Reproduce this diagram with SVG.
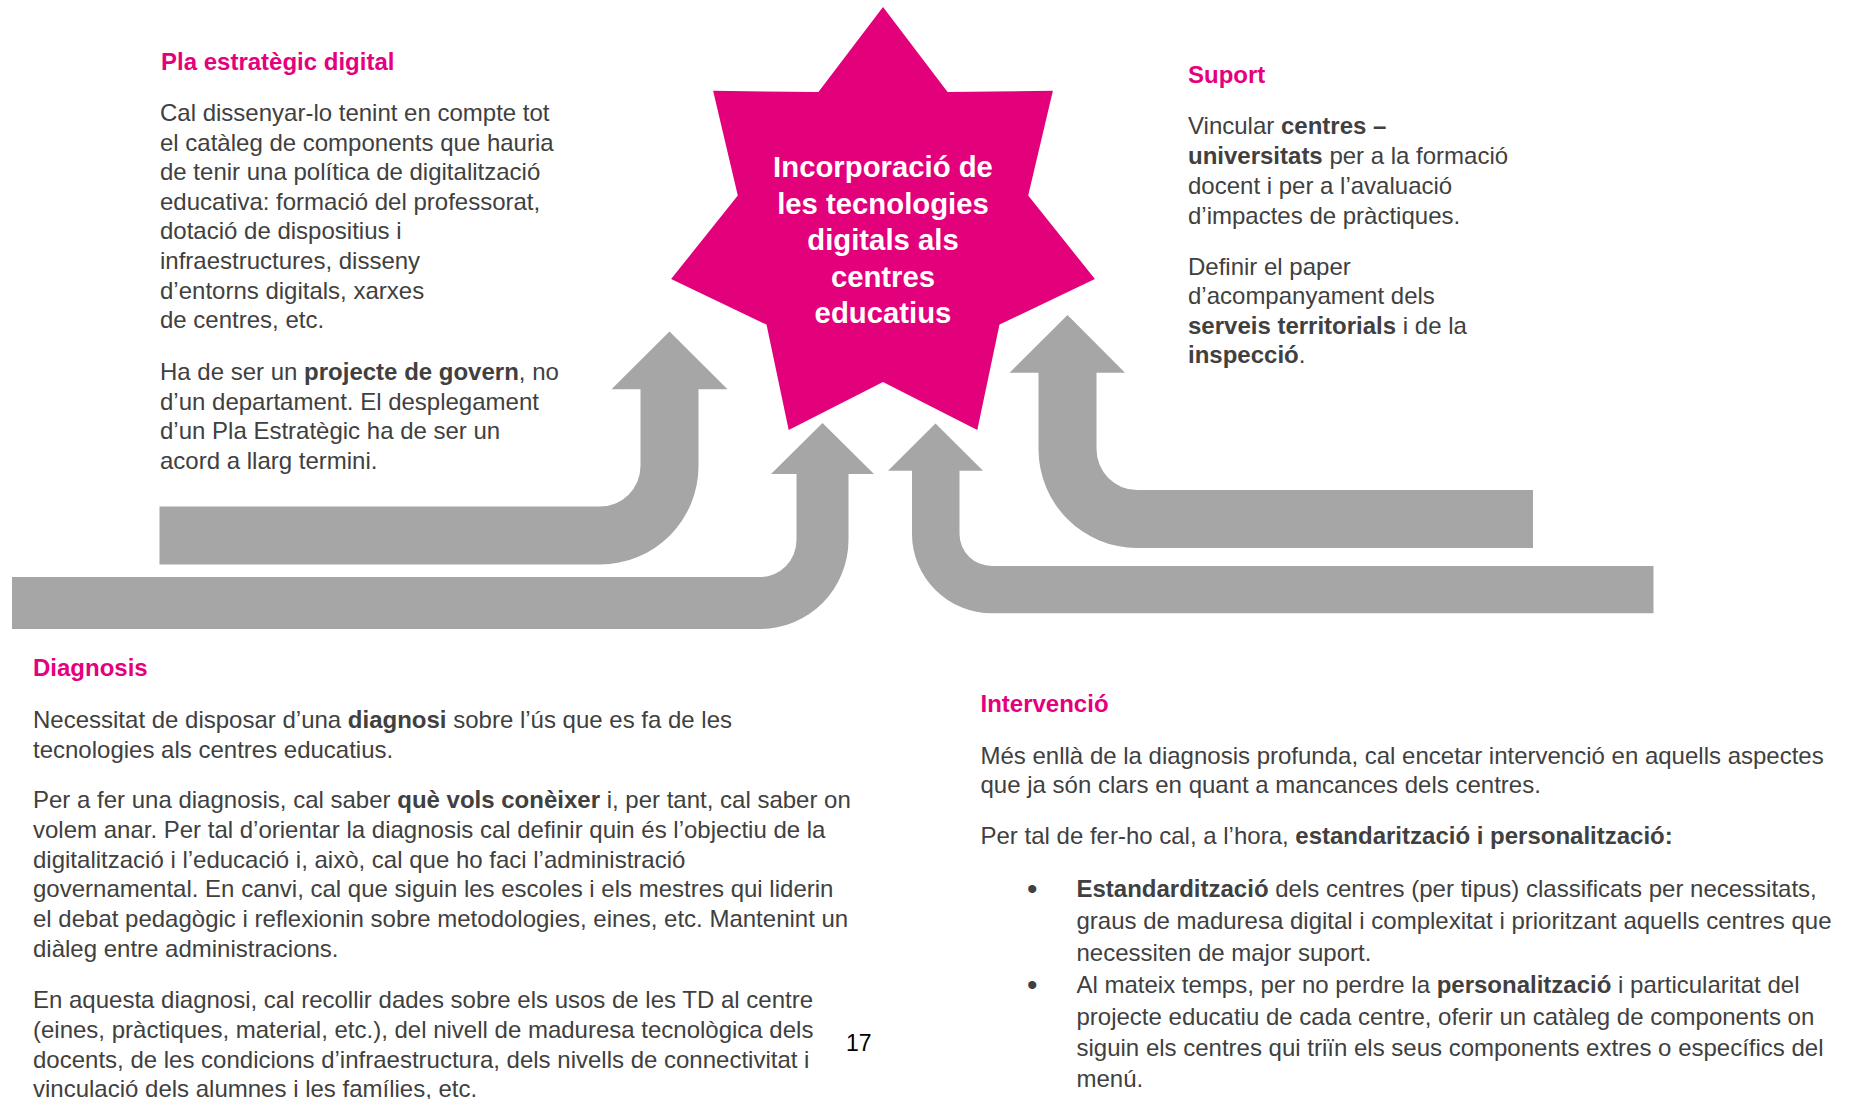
<svg xmlns="http://www.w3.org/2000/svg" width="1850" height="1099" viewBox="0 0 1850 1099">
<style>
  .t { font-family: "Liberation Sans", Arial, sans-serif; font-size: 24px; fill: #404040; }
  .h { font-family: "Liberation Sans", Arial, sans-serif; font-size: 24px; font-weight: bold; fill: #E5007D; }
  .b { font-weight: bold; }
  .st { font-family: "Liberation Sans", Arial, sans-serif; font-size: 29.3px; font-weight: bold; fill: #FFFFFF; text-anchor: middle; }
  .arrow { fill: #A6A6A6; }
  .bul { font-family: "Liberation Sans", Arial, sans-serif; font-size: 30px; fill: #404040; }
  .pg { font-family: "Liberation Sans", Arial, sans-serif; font-size: 23px; fill: #000000; }
</style>
<rect width="1850" height="1099" fill="#FFFFFF"/>

<g id="connectors">
  <path class="arrow" d="M159.5,506.5 H600 A40.5,40.5 0 0 0 640.5,466 V389.3 H611.5 L669.5,331.5 L727.5,389.3 H698.5 V466 A98.5,98.5 0 0 1 600,564.5 H159.5 Z"/>
  <path class="arrow" d="M12,577 H760 A36.5,37 0 0 0 796.5,540 V474 H771 L822.5,423 L874,474 H848.5 V540 A88.5,89 0 0 1 760,629 H12 Z"/>
  <path class="arrow" d="M1653.5,566 H992 A32.5,32 0 0 1 959.5,534 V470.7 H983 L935.5,423.5 L888,470.7 H912 V534 A80,79.3 0 0 0 992,613.3 H1653.5 Z"/>
  <path class="arrow" d="M1533,490 H1137 A40.5,41 0 0 1 1096.5,449 V372.7 H1125 L1067.5,315 L1009.5,372.7 H1038.5 V449 A98.5,99 0 0 0 1137,548 H1533 Z"/>
</g>

<g id="star">
  <polygon fill="#E3007B" points="883,7 947.6,92.1 1052.9,90.8 1028.2,195.6 1094.9,279 999.5,324.6 977.3,430 883,382 788.7,430 766.5,324.6 671.1,279 737.8,195.6 713.1,90.8 818.4,92.1"/>
  <text class="st" x="883" y="177">Incorporació de</text>
  <text class="st" x="883" y="213.5">les tecnologies</text>
  <text class="st" x="883" y="250">digitals als</text>
  <text class="st" x="883" y="286.5">centres</text>
  <text class="st" x="883" y="323">educatius</text>
</g>

<g id="pla">
  <text class="h" x="161" y="69.5">Pla estratègic digital</text>
  <text class="t" x="160" y="121">Cal dissenyar-lo tenint en compte tot</text>
  <text class="t" x="160" y="150.6">el catàleg de components que hauria</text>
  <text class="t" x="160" y="180.2">de tenir una política de digitalització</text>
  <text class="t" x="160" y="209.8">educativa: formació del professorat,</text>
  <text class="t" x="160" y="239.4">dotació de dispositius i</text>
  <text class="t" x="160" y="269">infraestructures, disseny</text>
  <text class="t" x="160" y="298.6">d’entorns digitals, xarxes</text>
  <text class="t" x="160" y="328.2">de centres, etc.</text>
  <text class="t" x="160" y="380">Ha de ser un <tspan class="b">projecte de govern</tspan>, no</text>
  <text class="t" x="160" y="409.6">d’un departament. El desplegament</text>
  <text class="t" x="160" y="439.2">d’un Pla Estratègic ha de ser un</text>
  <text class="t" x="160" y="468.8">acord a llarg termini.</text>
</g>

<g id="suport">
  <text class="h" x="1188" y="82.5">Suport</text>
  <text class="t" x="1188" y="133.5">Vincular <tspan class="b">centres –</tspan></text>
  <text class="t" x="1188" y="163.5"><tspan class="b">universitats</tspan> per a la formació</text>
  <text class="t" x="1188" y="193.5">docent i per a l’avaluació</text>
  <text class="t" x="1188" y="223.5">d’impactes de pràctiques.</text>
  <text class="t" x="1188" y="274.5">Definir el paper</text>
  <text class="t" x="1188" y="304">d’acompanyament dels</text>
  <text class="t" x="1188" y="333.5"><tspan class="b">serveis territorials</tspan> i de la</text>
  <text class="t" x="1188" y="363"><tspan class="b">inspecció</tspan>.</text>
</g>

<g id="diagnosis">
  <text class="h" x="33" y="676">Diagnosis</text>
  <text class="t" x="33" y="728">Necessitat de disposar d’una <tspan class="b">diagnosi</tspan> sobre l’ús que es fa de les</text>
  <text class="t" x="33" y="757.8">tecnologies als centres educatius.</text>
  <text class="t" x="33" y="808">Per a fer una diagnosis, cal saber <tspan class="b">què vols conèixer</tspan> i, per tant, cal saber on</text>
  <text class="t" x="33" y="837.8">volem anar. Per tal d’orientar la diagnosis cal definir quin és l’objectiu de la</text>
  <text class="t" x="33" y="867.6">digitalització i l’educació i, això, cal que ho faci l’administració</text>
  <text class="t" x="33" y="897.4">governamental. En canvi, cal que siguin les escoles i els mestres qui liderin</text>
  <text class="t" x="33" y="927.2">el debat pedagògic i reflexionin sobre metodologies, eines, etc. Mantenint un</text>
  <text class="t" x="33" y="957">diàleg entre administracions.</text>
  <text class="t" x="33" y="1008">En aquesta diagnosi, cal recollir dades sobre els usos de les TD al centre</text>
  <text class="t" x="33" y="1037.8">(eines, pràctiques, material, etc.), del nivell de maduresa tecnològica dels</text>
  <text class="t" x="33" y="1067.6">docents, de les condicions d’infraestructura, dels nivells de connectivitat i</text>
  <text class="t" x="33" y="1097.4">vinculació dels alumnes i les famílies, etc.</text>
</g>

<g id="page-number">
  <text class="pg" x="846" y="1050.5">17</text>
</g>

<g id="intervencio">
  <text class="h" x="980.5" y="711.5">Intervenció</text>
  <text class="t" x="980.5" y="763.5">Més enllà de la diagnosis profunda, cal encetar intervenció en aquells aspectes</text>
  <text class="t" x="980.5" y="793">que ja són clars en quant a mancances dels centres.</text>
  <text class="t" x="980.5" y="844">Per tal de fer-ho cal, a l’hora, <tspan class="b">estandarització i personalització:</tspan></text>
  <text class="bul" x="1027" y="899">•</text>
  <text class="t" x="1076.5" y="897"><tspan class="b">Estandardització</tspan> dels centres (per tipus) classificats per necessitats,</text>
  <text class="t" x="1076.5" y="929">graus de maduresa digital i complexitat i prioritzant aquells centres que</text>
  <text class="t" x="1076.5" y="960.5">necessiten de major suport.</text>
  <text class="bul" x="1027" y="994.5">•</text>
  <text class="t" x="1076.5" y="992.5">Al mateix temps, per no perdre la <tspan class="b">personalització</tspan> i particularitat del</text>
  <text class="t" x="1076.5" y="1024.5">projecte educatiu de cada centre, oferir un catàleg de components on</text>
  <text class="t" x="1076.5" y="1056">siguin els centres qui triïn els seus components extres o específics del</text>
  <text class="t" x="1076.5" y="1087">menú.</text>
</g>
</svg>
